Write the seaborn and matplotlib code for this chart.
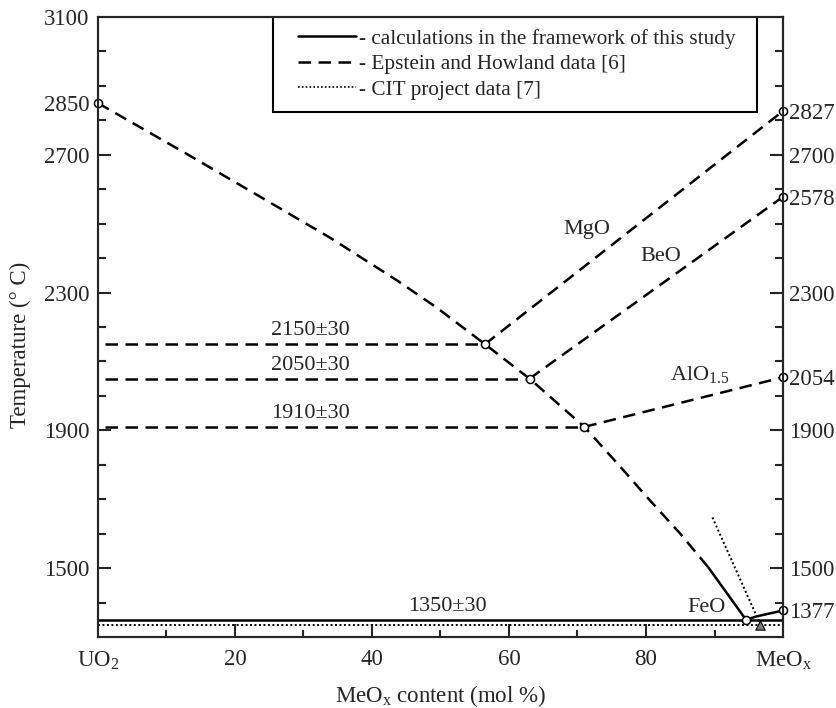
import matplotlib
matplotlib.use('Agg')
import matplotlib.pyplot as plt
import seaborn as sns
from matplotlib.lines import Line2D
from matplotlib.patches import Rectangle
from matplotlib.ticker import FixedLocator

# ---------------- data ----------------
# UO2-rich liquidus (Epstein & Howland)
liq_x = [0, 13, 26.1, 33.9, 43.6, 49.4, 56.5, 63, 71, 76, 80.1, 85, 89.1]
liq_T = [2850, 2702, 2550, 2459, 2336, 2257, 2150, 2050, 1910, 1800, 1707, 1600, 1502]

# eutectics UO2-MeOx (Epstein & Howland)
eut_names = ['MgO', 'BeO', 'AlO$_{1.5}$']
eut_x = [56.5, 63.0, 71.0]
eut_T = [2150, 2050, 1910]
eut_labels = ['2150±30', '2050±30', '1910±30']
melt_T = [2827, 2578, 2054]          # MeOx melting points at 100 %

# calculations of this study (FeO)
feo_calc_x = [89.1, 94.6, 96.2, 100]
feo_calc_T = [1502, 1350, 1360, 1377]
feo_eut_x = 94.6
feo_eut_T = 1350
feo_eut_label = '1350±30'

# CIT project data
cit_x = [89.7, 96.5]
cit_T = [1647, 1345]
cit_eut_x = 96.7
cit_eut_T = 1335

uo2_melt = 2850
feo_melt = 1377

left_ticks = [1500, 1900, 2300, 2700, 2850, 3100]
right_ticks = [1377, 1500, 1900, 2054, 2300, 2578, 2700, 2827]
major_marks = [1500, 1900, 2300, 2700]
x_ticks = [0, 20, 40, 60, 80, 100]
x_labels = ['UO$_2$', '20', '40', '60', '80', 'MeO$_\\mathrm{x}$']

legend_labels = ['- calculations in the framework of this study',
                 '- Epstein and Howland data [6]',
                 '- CIT project data [7]']

# ---------------- style ----------------
sns.set_theme(style='ticks')
plt.rcParams['font.family'] = ['Liberation Serif', 'DejaVu Serif']
plt.rcParams['mathtext.fontset'] = 'custom'
plt.rcParams['mathtext.rm'] = 'Liberation Serif'
plt.rcParams['mathtext.it'] = 'Liberation Serif:italic'
plt.rcParams['mathtext.bf'] = 'Liberation Serif:bold'
plt.rcParams['axes.linewidth'] = 1.5
plt.rcParams['xtick.direction'] = 'in'
plt.rcParams['ytick.direction'] = 'in'

TICK_FS = 16.5
ANN_FS = 16

fig = plt.figure(figsize=(8.37, 7.08), dpi=100)
ax = fig.add_axes([0.117, 0.1003, 0.8185, 0.8757])
ax2 = ax.twinx()

DASH = (0, (5, 3))
DOT = (0, (1, 1.3))
LW = 1.8
def line(x, y, ls='-', lw=LW, a=ax):
    sns.lineplot(x=x, y=y, ax=a, color='black', linewidth=lw, linestyle=ls,
                 sort=False, estimator=None, legend=False)

# liquidus
line(liq_x, liq_T, DASH)
# eutectic horizontals and MeOx branches
for name, ex, eT, lab, mT in zip(eut_names, eut_x, eut_T, eut_labels, melt_T):
    line([1, ex], [eT, eT], DASH)
    line([ex, 100], [eT, mT], DASH)
    ax.text(31, eT + 12, lab, ha='center', va='bottom', fontsize=ANN_FS)

# calculated FeO
line(feo_calc_x, feo_calc_T, '-')
line([0, 100], [feo_eut_T, feo_eut_T], '-')
ax.text(51, feo_eut_T + 12, feo_eut_label, ha='center', va='bottom', fontsize=ANN_FS)

# CIT
line(cit_x, cit_T, DOT, lw=1.4)
line([0, 100], [cit_eut_T, cit_eut_T], DOT, lw=1.4)

# names
ax.text(71.4, 2482, 'MgO', ha='center', va='center', fontsize=ANN_FS)
ax.text(82.2, 2404, 'BeO', ha='center', va='center', fontsize=ANN_FS)
ax.text(87.9, 2063, 'AlO$_{1.5}$', ha='center', va='center', fontsize=ANN_FS)
ax.text(88.9, 1386, 'FeO', ha='center', va='center', fontsize=ANN_FS)

# points
pts_x = [0] + eut_x + [100] * 3 + [feo_eut_x, 100]
pts_T = [uo2_melt] + eut_T + melt_T + [feo_eut_T, feo_melt]
sns.scatterplot(x=pts_x, y=pts_T, ax=ax, s=34, color='white', edgecolor='black',
                linewidth=1.1, zorder=6, clip_on=False, legend=False)
sns.scatterplot(x=[cit_eut_x], y=[cit_eut_T], ax=ax, s=45, marker='^', color='#7a7a7a',
                edgecolor='black', linewidth=0.8, zorder=6, clip_on=False, legend=False)

# axes limits
for a in (ax, ax2):
    a.set_ylim(1300, 3100)
    a.grid(False)
ax.set_xlim(0, 100)

# x ticks
ax.set_xticks(x_ticks)
ax.set_xticklabels(x_labels, fontsize=TICK_FS)
ax.xaxis.set_minor_locator(FixedLocator([10, 30, 50, 70, 90]))
ax.tick_params(axis='x', which='major', length=9.5, width=1.5, pad=9, top=False)
ax.tick_params(axis='x', which='minor', length=5, width=1.5, top=False)
for t, v in zip(ax.xaxis.get_major_ticks(), x_ticks):
    if v in (0, 100):
        t.tick1line.set_visible(False)

minor_y = [v for v in range(1400, 3100, 100) if v not in major_marks]
# left
ax.set_yticks(left_ticks)
ax.set_yticklabels([str(v) for v in left_ticks], fontsize=TICK_FS)
ax.yaxis.set_minor_locator(FixedLocator(minor_y))
ax.tick_params(axis='y', which='major', length=9.5, width=1.5, pad=6, right=False)
ax.tick_params(axis='y', which='minor', length=5.5, width=1.5, right=False)
for t, v in zip(ax.yaxis.get_major_ticks(), left_ticks):
    if v not in major_marks:
        t.tick1line.set_visible(False)
# right
ax2.set_yticks(right_ticks)
ax2.set_yticklabels([str(v) for v in right_ticks], fontsize=TICK_FS)
ax2.yaxis.set_minor_locator(FixedLocator(minor_y))
ax2.tick_params(axis='y', which='major', length=9.5, width=1.5, pad=4, left=False)
ax2.tick_params(axis='y', which='minor', length=5.5, width=1.5, left=False)
for t, v in zip(ax2.yaxis.get_major_ticks(), right_ticks):
    if v not in major_marks:
        t.tick2line.set_visible(False)

ax.set_xlabel('MeO$_\\mathrm{x}$ content (mol %)', fontsize=16.5)
ax.xaxis.set_label_coords(0.5, -0.074)
ax.set_ylabel('Temperature (° C)', fontsize=16.5)
ax.yaxis.set_label_coords(-0.097, 0.471)

# legend: frame drawn as a rectangle, entries as a frameless legend
frame = Rectangle((0.2555, 0.8468), 0.962 - 0.2555, 1.0 - 0.8468, transform=ax.transAxes,
                  facecolor='white', edgecolor='black', linewidth=1.5, zorder=9)
ax.add_patch(frame)
handles = [Line2D([], [], color='black', lw=LW, ls='-'),
           Line2D([], [], color='black', lw=LW, ls=DASH),
           Line2D([], [], color='black', lw=1.2, ls=DOT)]
leg = ax.legend(handles, legend_labels, loc='upper left', bbox_to_anchor=(0.292, 0.981),
                frameon=False, fontsize=15.3, handlelength=2.73, handletextpad=0.15,
                borderpad=0, labelspacing=0.27, borderaxespad=0)
leg.set_zorder(10)

fig.savefig('out.png', dpi=100)
